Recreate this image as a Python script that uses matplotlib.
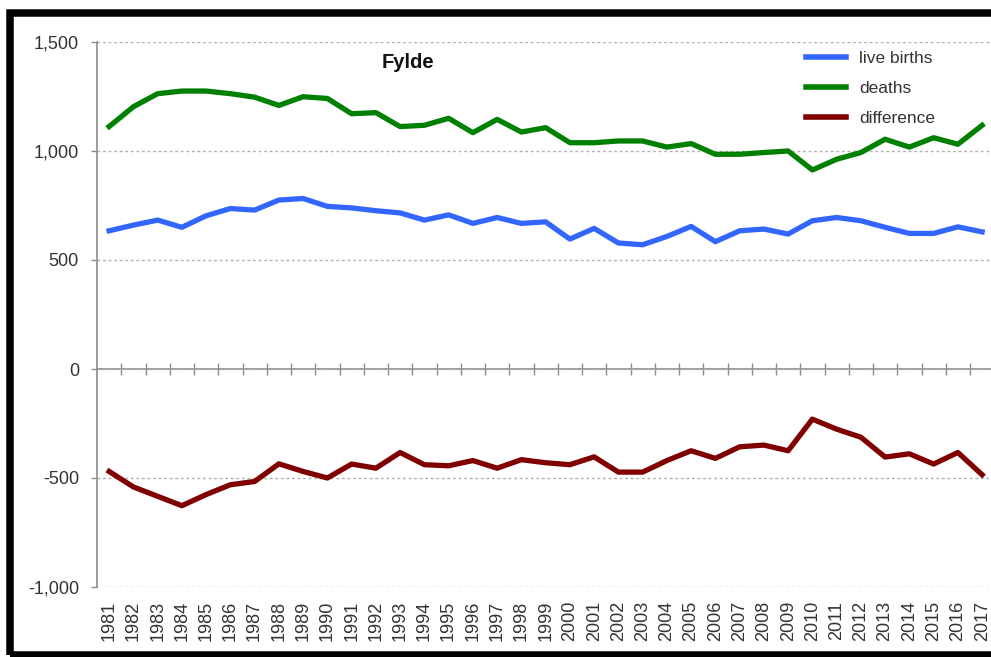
import numpy as np
import matplotlib.pyplot as plt
from matplotlib.patches import Rectangle

plt.rcParams['font.family'] = ['Liberation Sans', 'DejaVu Sans']

# Years shown on the x axis
years = list(range(1981, 2018))

# Values
live_births = [634, 660, 683, 650, 703, 736, 729, 775, 782, 746,
               739, 726, 716, 683, 707, 668, 695, 668, 675, 596,
               645, 578, 570, 608, 654, 584, 634, 642, 619, 680,
               695, 680, 650, 622, 622, 652, 629]
deaths = [1112, 1203, 1263, 1275, 1275, 1263, 1247, 1209, 1249, 1241,
          1171, 1176, 1112, 1118, 1150, 1084, 1145, 1087, 1107, 1038,
          1038, 1046, 1046, 1018, 1034, 985, 985, 993, 1000, 913,
          962, 993, 1054, 1018, 1061, 1031, 1118]
difference = [-470, -541, -584, -627, -576, -531, -516, -435, -470, -500,
              -436, -455, -383, -439, -444, -420, -455, -416, -430, -439,
              -403, -473, -473, -420, -375, -410, -357, -349, -375, -230,
              -276, -313, -404, -389, -436, -383, -485]

series_names = ['live births', 'deaths', 'difference']
series_colors = ['#3366ff', '#008000', '#800000']
y_ticks = [-1000, -500, 0, 500, 1000, 1500]

text_col = '#333333'
axis_col = '#8c8c8c'

fig = plt.figure(figsize=(9.91, 6.57), dpi=100)
ax = fig.add_axes([97 / 991, 70 / 657, 897.25 / 991, 545 / 657])

x = np.arange(len(years))
for vals, name, col in zip([live_births, deaths, difference], series_names, series_colors):
    ax.plot(x, vals, color=col, linewidth=3.8, label=name, solid_joinstyle='round')

ax.set_xlim(-0.5, len(years) - 0.5)
ax.set_ylim(-1000, 1500)

# y axis
ax.set_yticks(y_ticks)
ax.set_yticklabels([f'{v:,}' for v in y_ticks], fontsize=13, color=text_col)
ax.tick_params(axis='y', length=4, width=1, color=axis_col, pad=9)
ax.yaxis.grid(True, linestyle=(0, (2, 2)), color='#b0b0b0', linewidth=1)
ax.set_axisbelow(True)

# x labels at the bottom, no tick marks there
ax.set_xticks(x)
ax.set_xticklabels([str(y) for y in years], rotation=90, fontsize=13, color=text_col)
ax.tick_params(axis='x', length=0, pad=10)

for s in ['top', 'right', 'bottom']:
    ax.spines[s].set_visible(False)
ax.spines['left'].set_color(axis_col)
ax.spines['left'].set_linewidth(1.2)

# zero line with category tick marks
zero = ax.secondary_xaxis(1000 / 2500)
zero.set_xticks(np.arange(0.5, len(years) - 1, 1))
zero.tick_params(axis='x', direction='inout', length=9, width=1, color=axis_col, labelbottom=False)
zero.spines['bottom'].set_color(axis_col)
zero.spines['bottom'].set_linewidth(1.2)

fig.text(408 / 991, 1 - 62 / 657, 'Fylde', fontsize=14.5, fontweight='bold',
         ha='center', va='center', color='#111111')

leg = fig.legend(loc='upper left', bbox_to_anchor=(806 / 991, 1 - 51 / 657),
                 frameon=False, fontsize=12.5, handlelength=2.3, handletextpad=0.75,
                 labelspacing=0.84, borderpad=0, borderaxespad=0)
for t in leg.get_texts():
    t.set_color(text_col)
for h in leg.get_lines():
    h.set_linewidth(4)

# thick black frame round the chart (cut off on the right)
frame = Rectangle((9.7 / 991, 2.3 / 657), 1.05, (654.7 - 13.3) / 657,
                  transform=fig.transFigure, fill=False, edgecolor='black',
                  linewidth=5.4, clip_on=False)
fig.patches.append(frame)

fig.savefig('out.png', dpi=100, facecolor='white')
